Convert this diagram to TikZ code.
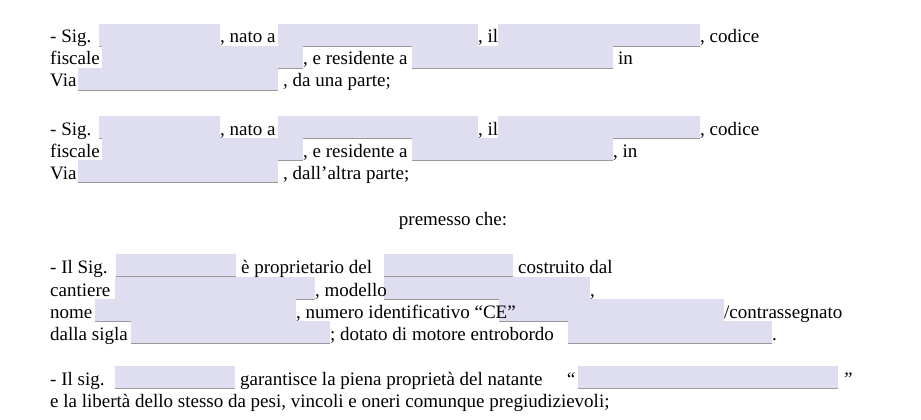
\documentclass[tikz,border=0pt]{standalone}
\usepackage{fontspec}
\setmainfont{Liberation Serif}

\tikzset{
  campo/.style={fill=lav, inner sep=0pt, minimum height=22pt,
    append after command={(\tikzlastnode.south west) edge[draw=gray!80, line width=0.8pt] (\tikzlastnode.south east)}},
  testo/.style={anchor=base west, inner sep=0pt, font=\fontsize{19}{22}\selectfont}
}
\definecolor{lav}{HTML}{DFDEF0}
% field: name, left x, right x, baseline
\newcommand{\campo}[4]{\node[campo, anchor=south west, minimum width={#3pt-#2pt}] (#1) at (#2,#4+3) {};}

\begin{document}
\begin{tikzpicture}[x=1pt, y=-1pt]
  \useasboundingbox (0,0) rectangle (921,420);

  % prima parte
  \campo{sigA}{99}{220}{43}
  \campo{natoA}{278}{478}{43}
  \campo{ilA}{498}{700}{43}
  \campo{cfA}{102}{303}{65}
  \campo{resA}{412}{613}{65}
  \campo{viaA}{78}{278}{87}
  \node[testo] (t1) at (50,43) {- Sig.};
  \node[testo] (t2) at (220,43) {, nato a};
  \node[testo] (t3) at (478,43) {, il};
  \node[testo] (t4) at (700,43) {, codice};
  \node[testo] (t5) at (50,65) {fiscale};
  \node[testo] (t6) at (303,65) {, e residente a};
  \node[testo] (t7) at (618,65) {in};
  \node[testo] (t8) at (50,87) {Via};
  \node[testo] (t9) at (283,87) {, da una parte;};

  % seconda parte
  \campo{sigB}{99}{220}{135}
  \campo{natoB}{278}{478}{135}
  \campo{ilB}{498}{700}{135}
  \campo{cfB}{102}{303}{157}
  \campo{resB}{412}{613}{157}
  \campo{viaB}{78}{278}{179}
  \node[testo] (u1) at (50,135) {- Sig.};
  \node[testo] (u2) at (220,135) {, nato a};
  \node[testo] (u3) at (478,135) {, il};
  \node[testo] (u4) at (700,135) {, codice};
  \node[testo] (u5) at (50,157) {fiscale};
  \node[testo] (u6) at (303,157) {, e residente a};
  \node[testo] (u7) at (613,157) {, in};
  \node[testo] (u8) at (50,179) {Via};
  \node[testo] (u9) at (283,179) {, dall’altra parte;};

  \node[testo, anchor=base] (prem) at (453,225) {premesso che:};

  % natante
  \campo{sigC}{116}{236}{273}
  \campo{propC}{384}{513}{273}
  \campo{cantC}{115}{315}{296}
  \campo{modC}{384}{590}{296}
  \campo{nomeC}{95}{296}{318}
  \campo{ceC}{499}{724}{318}
  \campo{siglaC}{131}{330}{340}
  \campo{motC}{568}{772}{340}
  \node[testo] (v1) at (50,273) {- Il Sig.};
  \node[testo] (v2) at (241,273) {è proprietario del};
  \node[testo] (v3) at (518,273) {costruito dal};
  \node[testo] (v4) at (50,296) {cantiere};
  \node[testo] (v5) at (315,296) {, modello};
  \node[testo] (v6) at (590,296) {,};
  \node[testo] (v7) at (50,318) {nome};
  \node[testo] (v8) at (296,318) {, numero identificativo “CE”};
  \node[testo] (v9) at (724,318) {/contrassegnato};
  \node[testo] (v10) at (50,340) {dalla sigla};
  \node[testo] (v11) at (330,340) {; dotato di motore entrobordo};
  \node[testo] (v12) at (772,340) {.};

  % garanzia
  \campo{sigD}{115}{235}{385}
  \campo{natD}{578}{838}{385}
  \node[testo] (w1) at (50,385) {- Il sig.};
  \node[testo] (w2) at (240,385) {garantisce la piena proprietà del natante};
  \node[testo] (w3) at (565,385) {\itshape “};
  \node[testo] (w4) at (842,385) {\itshape ”};
  \node[testo] (w5) at (50,407) {e la libertà dello stesso da pesi, vincoli e oneri comunque pregiudizievoli;};
\end{tikzpicture}
\end{document}
